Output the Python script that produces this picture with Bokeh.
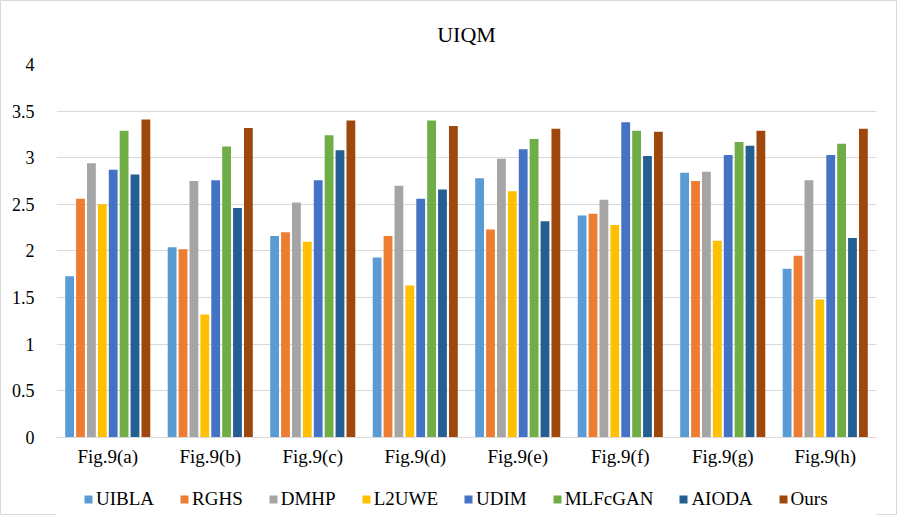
from bokeh.plotting import figure
from bokeh.models import (ColumnDataSource, FactorRange, Range1d, Legend, LegendItem,
                          FixedTicker, CustomJSTickFormatter)
from bokeh.transform import dodge
from bokeh.embed import file_html
from bokeh.resources import INLINE

groups = ["Fig.9(a)", "Fig.9(b)", "Fig.9(c)", "Fig.9(d)",
          "Fig.9(e)", "Fig.9(f)", "Fig.9(g)", "Fig.9(h)"]
series_names = ["UIBLA", "RGHS", "DMHP", "L2UWE", "UDIM", "MLFcGAN", "AIODA", "Ours"]
colors = ["#5B9BD5", "#ED7D31", "#A5A5A5", "#FFC000", "#4472C4", "#70AD47", "#255E91", "#9E480E"]

UIBLA   = [1.73, 2.04, 2.16, 1.93, 2.78, 2.38, 2.84, 1.81]
RGHS    = [2.56, 2.02, 2.20, 2.16, 2.23, 2.40, 2.75, 1.95]
DMHP    = [2.94, 2.75, 2.52, 2.70, 2.99, 2.55, 2.85, 2.76]
L2UWE   = [2.50, 1.32, 2.10, 1.63, 2.64, 2.28, 2.11, 1.48]
UDIM    = [2.87, 2.76, 2.76, 2.56, 3.09, 3.38, 3.03, 3.03]
MLFcGAN = [3.29, 3.12, 3.24, 3.40, 3.20, 3.29, 3.17, 3.15]
AIODA   = [2.82, 2.46, 3.08, 2.66, 2.32, 3.02, 3.13, 2.14]
Ours    = [3.41, 3.32, 3.40, 3.34, 3.31, 3.28, 3.29, 3.31]

y_ticks = [0, 0.5, 1, 1.5, 2, 2.5, 3, 3.5, 4]

series_values = [UIBLA, RGHS, DMHP, L2UWE, UDIM, MLFcGAN, AIODA, Ours]
data = {"group": groups}
for name, vals in zip(series_names, series_values):
    data[name] = vals
source = ColumnDataSource(data)

FONT = "Liberation Serif"

# extra room below zero holds the category labels and the legend
p = figure(x_range=FactorRange(*groups), y_range=Range1d(-0.8365, 4),
           width=897, height=515, output_backend="svg", toolbar_location=None,
           title="UIQM", min_border_left=56, min_border_right=21,
           min_border_top=64, min_border_bottom=0,
           border_fill_color="white")
p.border_line_color = "#d9d9d9"

p.title.align = "center"
p.title.text_font = FONT
p.title.text_font_size = "22px"
p.title.text_font_style = "normal"
p.title.text_color = "#000000"
p.title.standoff = 35

pitch = 0.1063
bar_w = 0.086
items = []
for i, (name, col) in enumerate(zip(series_names, colors)):
    r = p.vbar(x=dodge("group", (i - 3.5) * pitch, range=p.x_range), top=name,
               width=bar_w, source=source, fill_color=col, line_color=None)
    items.append(LegendItem(label=name, renderers=[r]))

p.outline_line_color = None
p.xgrid.grid_line_color = None
p.ygrid.grid_line_color = "#d9d9d9"
p.ygrid.grid_line_width = 1

p.yaxis.ticker = FixedTicker(ticks=y_ticks)
p.yaxis.formatter = CustomJSTickFormatter(code="return tick.toString();")
p.yaxis.axis_line_color = None
p.yaxis.major_tick_line_color = None
p.yaxis.minor_tick_line_color = None
p.yaxis.major_label_text_font = FONT
p.yaxis.major_label_text_font_size = "18px"
p.yaxis.major_label_text_color = "#000000"
p.yaxis.major_label_standoff = 16

p.xaxis.fixed_location = 0
p.xaxis.axis_line_color = "#d9d9d9"
p.xaxis.axis_line_width = 1
p.xaxis.major_tick_line_color = None
p.xaxis.minor_tick_line_color = None
p.xaxis.major_label_text_font = FONT
p.xaxis.major_label_text_font_size = "19px"
p.xaxis.major_label_text_color = "#000000"
p.xaxis.major_label_standoff = 3

legend = Legend(items=items, orientation="horizontal", location=(27, 5))
legend.label_text_font = FONT
legend.label_text_font_size = "19px"
legend.label_text_color = "#000000"
legend.glyph_width = 10
legend.glyph_height = 10
legend.label_standoff = 3
legend.spacing = 25
legend.padding = 4
legend.margin = 0
legend.border_line_color = None
legend.background_fill_alpha = 0
p.add_layout(legend)

open("out.html", "w").write(file_html(p, INLINE))
